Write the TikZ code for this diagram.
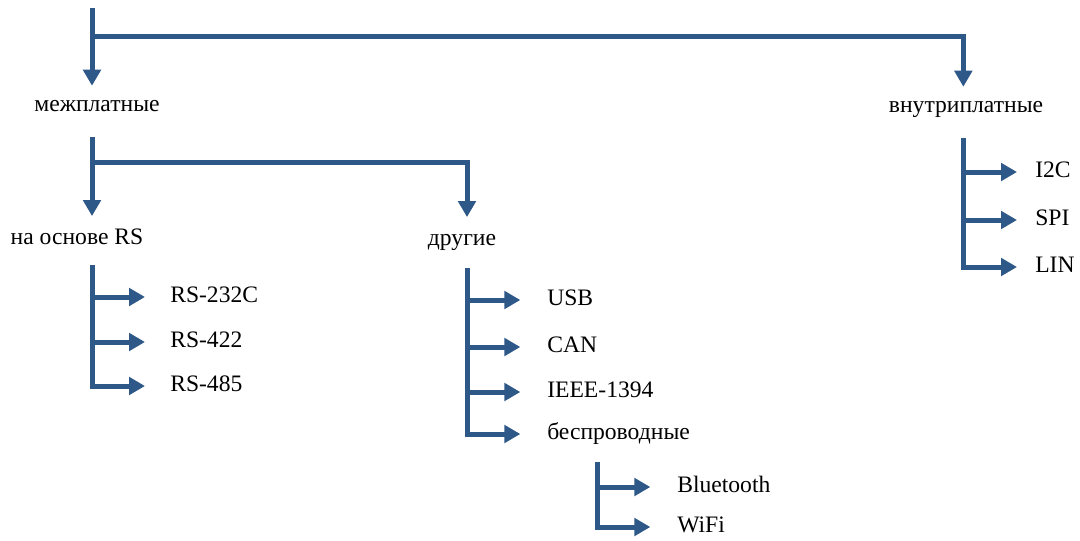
\documentclass[tikz,border=0pt]{standalone}
\usepackage{fontspec}
\setmainfont{Liberation Serif}
\usepackage{tikz}
\usetikzlibrary{arrows.meta,calc}
\definecolor{busblue}{RGB}{46,88,135}

\begin{document}
\begin{tikzpicture}[x=0.75pt,y=-0.75pt,
    link/.style={draw=busblue,line width=3.75pt},
    arr/.style={link,-{Triangle[length=12pt,width=13pt]}},
    lbl/.style={inner sep=0pt,text height=12pt,text depth=4pt,font=\fontsize{17.7}{20}\selectfont},
    leaf/.style={lbl,anchor=west}]
    \useasboundingbox (0,0) rectangle (1080,540);

    % first level
    \coordinate (top) at (92,8);
    \node [lbl] (mezh) at (97,106) {межплатные};
    \node [lbl] (vnutr) at (966,107) {внутриплатные};
    \draw [arr,shorten >=7pt] (top) -- ([xshift=-3.75pt]mezh.north);
    \draw [arr,shorten >=7pt] (top |- 0,36) -| ([xshift=-2pt]vnutr.north);

    % mezhplatnye
    \coordinate (mbus) at (92,137);
    \node [lbl] (rs) at (77,239) {на основе RS};
    \node [lbl] (drug) at (462,240) {другие};
    \draw [arr,shorten >=9pt] (mbus) -- ([xshift=11.25pt]rs.north);
    \draw [arr,shorten >=9pt] (mbus |- 0,162) -| ([xshift=3.75pt]drug.north);

    % RS
    \coordinate (rsbus) at (92,265);
    \node [leaf] (rs1) at (170,297) {RS-232C};
    \node [leaf] (rs2) at (170,342) {RS-422};
    \node [leaf] (rs3) at (170,386) {RS-485};
    \foreach \n in {rs1,rs2}
        \draw [arr,shorten >=18.75pt] (rsbus |- \n) -- (\n.west);
    \draw [arr,shorten >=18.75pt] (rsbus) |- (rs3.west);

    % drugie
    \coordinate (dbus) at (467,268);
    \node [leaf] (usb) at (547,300) {USB};
    \node [leaf] (can) at (547,347) {CAN};
    \node [leaf] (ieee) at (547,392) {IEEE-1394};
    \node [leaf] (wless) at (547,434) {беспроводные};
    \foreach \n in {usb,can,ieee}
        \draw [arr,shorten >=20pt] (dbus |- \n) -- (\n.west);
    \draw [arr,shorten >=20pt] (dbus) |- (wless.west);

    % besprovodnye
    \coordinate (wbus) at (597,462);
    \node [leaf] (bt) at (677,487) {Bluetooth};
    \node [leaf] (wifi) at (677,527) {WiFi};
    \draw [arr,shorten >=20pt] (wbus |- bt) -- (bt.west);
    \draw [arr,shorten >=20pt] (wbus) |- (wifi.west);

    % vnutriplatnye
    \coordinate (vbus) at (963,138);
    \node [leaf] (i2c) at (1035,172) {I2C};
    \node [leaf] (spi) at (1035,220) {SPI};
    \node [leaf] (lin) at (1035,267) {LIN};
    \foreach \n in {i2c,spi}
        \draw [arr,shorten >=13.5pt] (vbus |- \n) -- (\n.west);
    \draw [arr,shorten >=13.5pt] (vbus) |- (lin.west);
\end{tikzpicture}
\end{document}
